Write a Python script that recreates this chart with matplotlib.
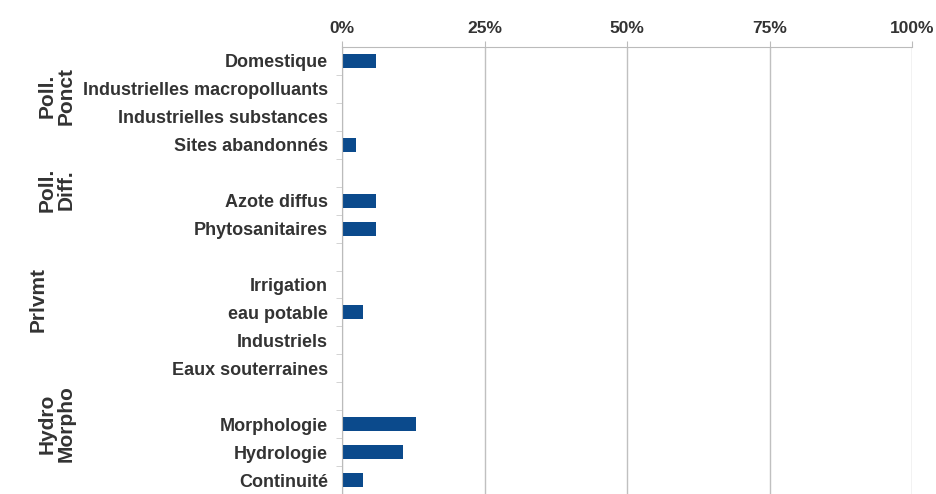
import matplotlib
matplotlib.use("Agg")
from matplotlib import pyplot as plt

plt.rcParams['font.family'] = ['Liberation Sans', 'DejaVu Sans']

# categories (blank strings are the gaps between groups)
categories = ['Domestique', 'Industrielles macropolluants', 'Industrielles substances',
              'Sites abandonnés', '', 'Azote diffus', 'Phytosanitaires', '',
              'Irrigation', 'eau potable', 'Industriels', 'Eaux souterraines', '',
              'Morphologie', 'Hydrologie', 'Continuité']
values = [6.0, 0, 0, 2.5, 0, 6.0, 6.0, 0, 0, 3.7, 0, 0, 0, 13.0, 10.7, 3.7]
x_ticks = [0, 25, 50, 75, 100]
x_labels = ['0%', '25%', '50%', '75%', '100%']
groups = ['Poll.\nPonct', 'Poll.\nDiff.', 'Prlvmt', 'Hydro\nMorpho']

txt = '#333333'
fig = plt.figure(figsize=(9.37, 4.94), dpi=100)
ax = fig.add_axes([342/937, 0.0, 570/937, 1 - 47/494])

pos = list(range(len(categories)))
ax.barh(pos, values, height=0.5, color='#0b4a8c')
ax.set_ylim(len(categories) - 0.5, -0.5)
ax.set_xlim(0, 100)

ax.xaxis.tick_top()
ax.set_xticks(x_ticks)
ax.set_xticklabels(x_labels, fontsize=12.5, fontweight='bold', color=txt)
ax.tick_params(axis='x', length=4, color='#bbbbbb', pad=4)
ax.grid(axis='x', color='#c0c0c0', lw=1)
ax.set_axisbelow(True)

ax.set_yticks(pos)
ax.set_yticklabels(categories, fontsize=13, fontweight='bold', color=txt)
ax.tick_params(axis='y', length=0, pad=10)
ax.set_yticks([p + 0.5 for p in pos[:-1]], minor=True)
ax.tick_params(axis='y', which='minor', length=4, color='#cccccc')

for s in ['right', 'bottom']:
    ax.spines[s].set_visible(False)
ax.spines['left'].set_color('#bbbbbb')
ax.spines['top'].set_color('#bbbbbb')

# group labels on the left
fig.text(57/937, 1 - 96/494, groups[0], rotation=90, ha='center', va='center',
         fontsize=15, fontweight='bold', color=txt, linespacing=1.0)
fig.text(57/937, 1 - 190/494, groups[1], rotation=90, ha='center', va='center',
         fontsize=15, fontweight='bold', color=txt, linespacing=1.0)
fig.text(38/937, 1 - 300/494, groups[2], rotation=90, ha='center', va='center',
         fontsize=15, fontweight='bold', color=txt, linespacing=1.0)
fig.text(57/937, 1 - 424/494, groups[3], rotation=90, ha='center', va='center',
         fontsize=15, fontweight='bold', color=txt, linespacing=1.0)

fig.savefig('out.png', dpi=100)
